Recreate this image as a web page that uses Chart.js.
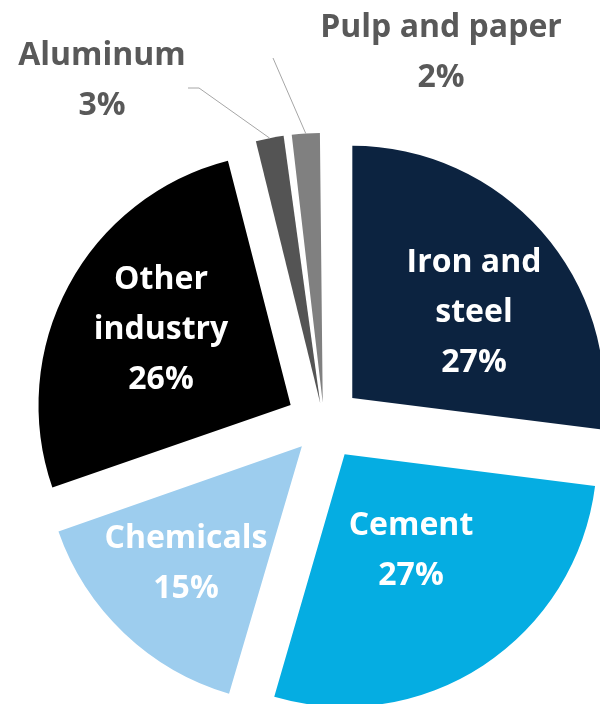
<!DOCTYPE html>
<html>
<head>
<meta charset="utf-8">
<script src="https://cdn.jsdelivr.net/npm/chart.js@4.4.1/dist/chart.umd.min.js"></script>
<style>
  html, body { margin: 0; padding: 0; background: #fff; overflow: hidden; }
  #wrap { width: 600px; height: 704px; }
</style>
</head>
<body>
<div id="wrap"><canvas id="myChart" width="600" height="704"></canvas></div>
<script>
  const categories = ['Iron and\nsteel', 'Cement', 'Chemicals', 'Other\nindustry', 'Aluminum', 'Pulp and paper'];
  // slice sizes as drawn in the picture (%), and the rounded labels printed on it
  const shares = [27.0, 27.5, 15.2, 26.3, 2.0, 2.0];
  const shareLabels = ['27%', '27%', '15%', '26%', '3%', '2%'];
  const colors = ['#0C2340', '#05ADE2', '#9DCDEE', '#000000', '#545454', '#808080'];

  // how far each slice is pulled out, in px
  const explode = 38;
  const total = shares.reduce((a, b) => a + b, 0);

  // Chart.js v4 arcs move by offset/4 * (2 - sin(circumference)), so undo that per slice
  const offsets = shares.map(v => {
    const circ = v / total * Math.PI * 2;
    return explode / (0.25 * (2 - Math.sin(Math.min(Math.PI, circ))));
  });

  // where the text goes (first baseline, line step 50)
  const labelSpots = [
    { x: 474, y: 272, color: '#fff' },
    { x: 411, y: 535, color: '#fff' },
    { x: 186, y: 548, color: '#fff' },
    { x: 161, y: 289, color: '#fff' },
    { x: 102, y: 65, color: '#595959', leader: [[188, 88], [199, 88]] },
    { x: 441, y: 37, color: '#595959', leader: [[273, 58]] }
  ];

  const sliceLabels = {
    id: 'sliceLabels',
    afterDatasetsDraw(chart) {
      const ctx = chart.ctx;
      const arcs = chart.getDatasetMeta(0).data;
      ctx.save();
      arcs.forEach((arc, i) => {
        const spot = labelSpots[i];
        if (spot.leader) {
          const mid = (arc.startAngle + arc.endAngle) / 2;
          const r = arc.outerRadius + explode;
          ctx.beginPath();
          ctx.strokeStyle = '#A6A6A6';
          ctx.lineWidth = 1;
          ctx.moveTo(spot.leader[0][0], spot.leader[0][1]);
          spot.leader.slice(1).forEach(p => ctx.lineTo(p[0], p[1]));
          ctx.lineTo(arc.x + Math.cos(mid) * r, arc.y + Math.sin(mid) * r);
          ctx.stroke();
        }
        const lines = categories[i].split('\n').concat([shareLabels[i]]);
        ctx.fillStyle = spot.color;
        ctx.font = 'bold 32px "Open Sans"';
        ctx.textAlign = 'center';
        ctx.textBaseline = 'alphabetic';
        lines.forEach((t, k) => ctx.fillText(t, spot.x, spot.y + k * 50));
      });
      ctx.restore();
    }
  };

  const config = {
    type: 'pie',
    data: {
      labels: categories,
      datasets: [{
        data: shares,
        backgroundColor: colors,
        borderWidth: 0,
        offset: offsets,
        clip: false
      }]
    },
    options: {
      responsive: false,
      animation: false,
      events: [],
      radius: 252,
      layout: { padding: { left: 48, top: 142, right: 0, bottom: 0 } },
      plugins: {
        legend: { display: false },
        tooltip: { enabled: false }
      }
    },
    plugins: [sliceLabels]
  };

  const myChart = new Chart(document.getElementById('myChart'), config);
</script>
</body>
</html>
